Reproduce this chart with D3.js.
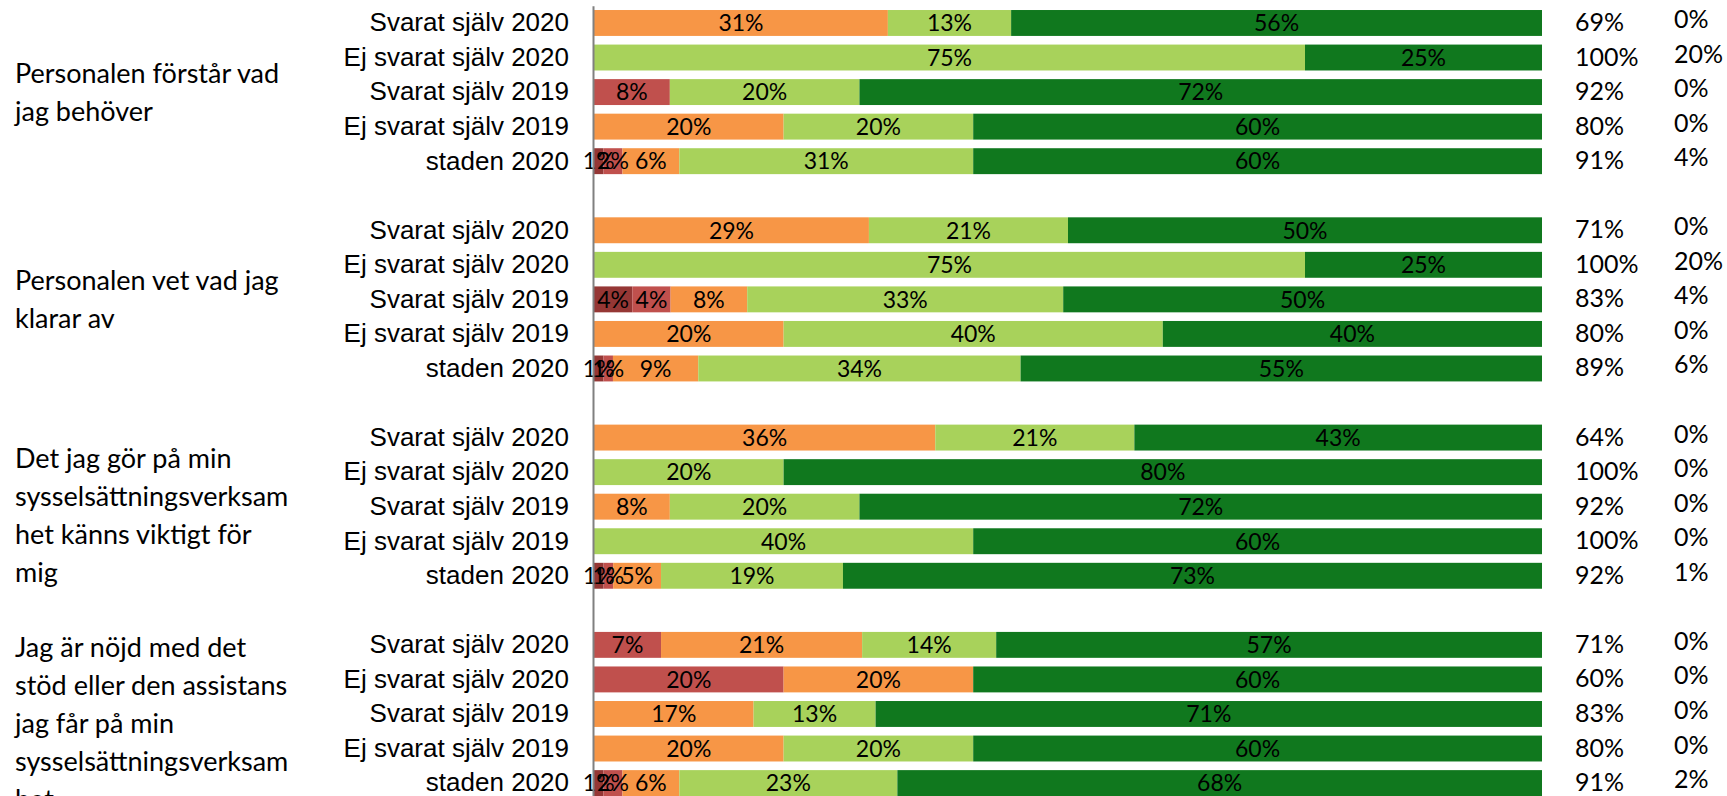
<!DOCTYPE html>
<html lang="sv">
<head>
<meta charset="utf-8">
<script src="https://cdn.jsdelivr.net/npm/d3@7"></script>
<style>
  html, body { margin: 0; padding: 0; background: #fff; }
  svg { display: block; }
</style>
</head>
<body>
<svg id="chart" width="1727" height="796"></svg>
<script>
// Statements (multi-line, wrapped as in the survey report)
const groupLabels = [
  ["Personalen förstår vad", "jag behöver"],
  ["Personalen vet vad jag", "klarar av"],
  ["Det jag gör på min", "sysselsättningsverksam", "het känns viktigt för", "mig"],
  ["Jag är nöjd med det", "stöd eller den assistans", "jag får på min", "sysselsättningsverksam", "het"]
];

// Respondent groups shown under every statement
const rowLabels = ["Svarat själv 2020", "Ej svarat själv 2020", "Svarat själv 2019", "Ej svarat själv 2019", "staden 2020"];

// Answer shares (%) per response step, lowest to highest; 5 rows per statement
const stepLowest = [0, 0, 0, 0, 1,   0, 0, 4, 0, 1,   0, 0, 0, 0, 1,   0, 0, 0, 0, 1];
const stepLow    = [0, 0, 8, 0, 2,   0, 0, 4, 0, 1,   0, 0, 0, 0, 1,   7, 20, 0, 0, 2];
const stepMiddle = [31, 0, 0, 20, 6, 29, 0, 8, 20, 9, 36, 0, 8, 0, 5,  21, 20, 17, 20, 6];
const stepHigh   = [13, 75, 20, 20, 31, 21, 75, 33, 40, 34, 21, 20, 20, 40, 19, 14, 0, 13, 20, 23];
const stepTop    = [56, 25, 72, 60, 60, 50, 25, 50, 40, 55, 43, 80, 72, 60, 73, 57, 60, 71, 60, 68];

// Share of positive answers (%) and share without an answer (%)
const positiveShare = [69, 100, 92, 80, 91, 71, 100, 83, 80, 89, 64, 100, 92, 100, 92, 71, 60, 83, 80, 91];
const noAnswerShare = [0, 20, 0, 0, 4,   0, 20, 4, 0, 6,   0, 0, 0, 0, 1,   0, 0, 0, 0, 2];

const stepKeys = ["lowest", "low", "middle", "high", "top"];
const stepValues = [stepLowest, stepLow, stepMiddle, stepHigh, stepTop];
const stepColors = ["#953735", "#C0504D", "#F79646", "#A8D25B", "#10781E"];

// Build one record per bar, plus an empty spacer slot after each statement
const rows = [];
const slots = [];
groupLabels.forEach((g, gi) => {
  rowLabels.forEach((label, ri) => {
    const i = gi * rowLabels.length + ri;
    const rec = { slot: `g${gi}r${ri}`, label, group: gi, positive: positiveShare[i], noAnswer: noAnswerShare[i] };
    stepKeys.forEach((k, ki) => { rec[k] = stepValues[ki][i]; });
    rows.push(rec);
    slots.push(rec.slot);
  });
  slots.push(`g${gi}gap`);
});

const svg = d3.select("#chart");

const x = d3.scaleLinear().domain([0, 1]).range([594, 1542]);
const y = d3.scaleBand()
  .domain(slots)
  .range([5.7, 5.7 + slots.length * 34.55])
  .paddingInner(0.25)
  .paddingOuter(0.125);

const color = d3.scaleOrdinal().domain(stepKeys).range(stepColors);

// 100 % stacked bars
const stacked = d3.stack().keys(stepKeys).offset(d3.stackOffsetExpand)(rows);

const layers = svg.append("g").attr("class", "bars")
  .selectAll("g")
  .data(stacked)
  .join("g")
  .attr("fill", d => color(d.key));

layers.selectAll("rect")
  .data(d => d.filter(s => s.data[d.key] > 0).map(s => Object.assign(s, { key: d.key })))
  .join("rect")
  .attr("x", s => x(s[0]))
  .attr("y", s => y(s.data.slot))
  .attr("width", s => x(s[1]) - x(s[0]))
  .attr("height", y.bandwidth());

// Value labels inside the segments
const labelLayer = svg.append("g").attr("class", "bar-labels")
  .attr("font-family", "Lato, 'Noto Sans', sans-serif")
  .attr("font-size", 23)
  .attr("fill", "#000")
  .attr("text-anchor", "middle");

stacked.forEach(layer => {
  labelLayer.selectAll(null)
    .data(layer.filter(s => s.data[layer.key] > 0))
    .join("text")
    .attr("x", s => (x(s[0]) + x(s[1])) / 2)
    .attr("y", s => y(s.data.slot) + y.bandwidth() / 2)
    .attr("dy", "0.36em")
    .text(s => s.data[layer.key] + "%");
});

// Category axis with respondent group labels
const axis = d3.axisLeft(y)
  .tickSize(0)
  .tickPadding(24)
  .tickFormat(s => {
    const r = rows.find(d => d.slot === s);
    return r ? r.label : "";
  });

const axisG = svg.append("g")
  .attr("transform", `translate(${x(0) - 1},0)`)
  .call(axis);
axisG.select(".domain").attr("stroke", "#808080").attr("stroke-width", 2);
axisG.selectAll(".tick text")
  .attr("font-family", "'Liberation Sans', Arial, sans-serif")
  .attr("font-size", 26)
  .attr("fill", "#000");

// Statement labels, centred on the middle bar of each block;
// long (wrapped) statements sit a little lower
const lineHeight = 38;
svg.append("g").attr("class", "group-labels")
  .attr("font-family", "Lato, 'Noto Sans', sans-serif")
  .attr("font-size", 27)
  .attr("fill", "#000")
  .selectAll("text")
  .data(groupLabels)
  .join("text")
  .attr("transform", (lines, gi) => {
    const mid = y(`g${gi}r2`) + y.bandwidth() / 2 + (lines.length > 2 ? 9 : 0);
    return `translate(15,${mid - (lines.length - 1) * lineHeight / 2})`;
  })
  .selectAll("tspan")
  .data(lines => lines)
  .join("tspan")
  .attr("x", 0)
  .attr("y", (d, i) => i * lineHeight)
  .attr("dy", "0.36em")
  .text(d => d);

// Summary columns at the right
const summary = svg.append("g").attr("class", "summary")
  .attr("font-family", "Lato, 'Noto Sans', sans-serif")
  .attr("font-size", 25)
  .attr("fill", "#000");

summary.selectAll("text.positive")
  .data(rows)
  .join("text")
  .attr("class", "positive")
  .attr("x", 1575)
  .attr("y", d => y(d.slot) + y.bandwidth() / 2 - 1)
  .attr("dy", "0.36em")
  .text(d => d.positive + "%");

summary.selectAll("text.noanswer")
  .data(rows)
  .join("text")
  .attr("class", "noanswer")
  .attr("x", 1674)
  .attr("y", d => y(d.slot) + y.bandwidth() / 2 - 4)
  .attr("dy", "0.36em")
  .text(d => d.noAnswer + "%");
</script>
</body>
</html>
